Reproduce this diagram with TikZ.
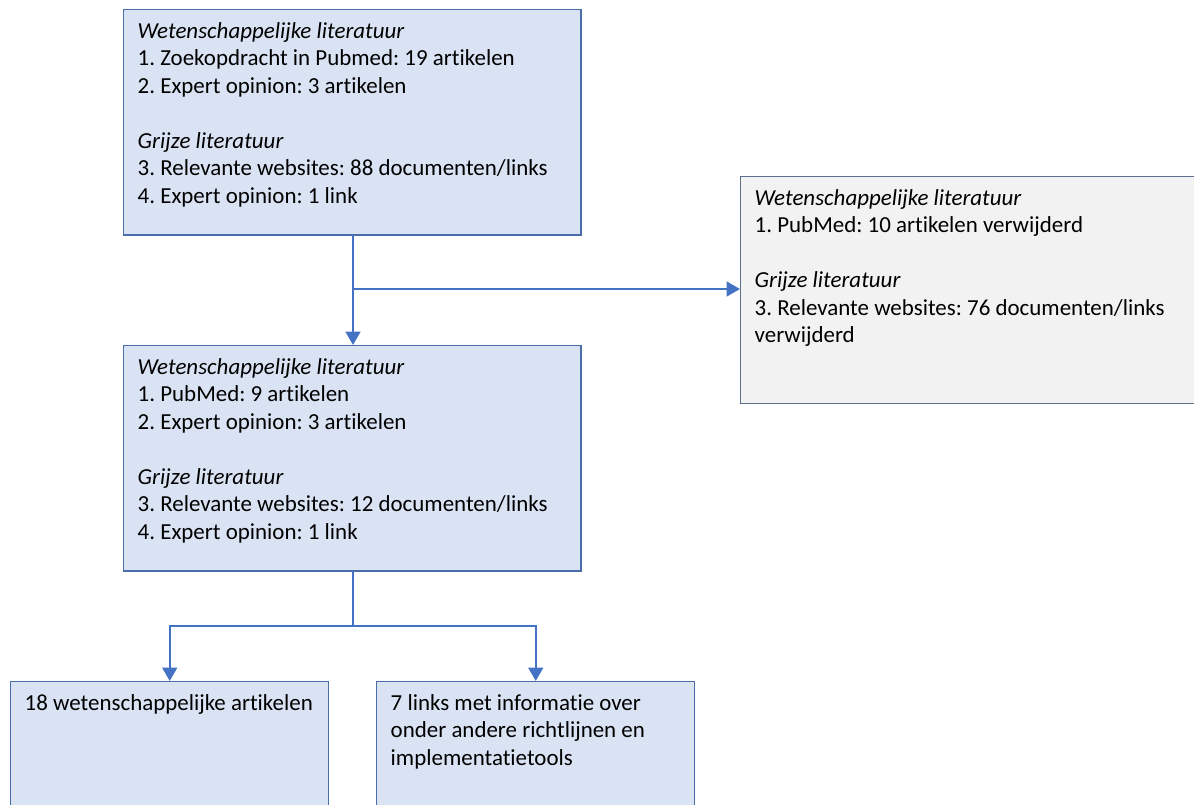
\documentclass[tikz,border=0pt]{standalone}
\usepackage{fontspec}
\setmainfont[Ligatures=NoCommon]{Carlito}
\usepackage{xcolor}
\usetikzlibrary{arrows.meta,positioning}
\definecolor{lblue}  {HTML}{DAE3F3}
\definecolor{lgrey}  {HTML}{F2F2F2}
\definecolor{edgeblue}{HTML}{4A6FA8}
\definecolor{edgegrey}{HTML}{5B6F8E}
\definecolor{arrblue}{HTML}{4472C4}
\frenchspacing

\begin{document}
\begin{tikzpicture}[
  x=0.75pt, y=-0.75pt,
  every node/.style={font=\fontsize{17.2}{20.6}\selectfont},
  blok/.style={rectangle, anchor=north west, align=left, draw=edgeblue,
               fill=lblue, line width=1.1pt, inner xsep=10.5pt, inner ysep=9.5pt},
  grijs/.style={blok, fill=lgrey, draw=edgegrey},
  arr/.style={-{Triangle[length=10pt,width=11pt]}, draw=arrblue, line width=1.8pt},
  lijn/.style={draw=arrblue, line width=1.8pt},
]
\useasboundingbox (0,0) rectangle (1194,805);
\clip (0,0) rectangle (1194,805);
\fill[white] (0,0) rectangle (1194,805);

\node[blok](zoek) at (123,9)
  {\parbox[t][150pt][t]{322pt}{\textit{Wetenschappelijke literatuur}\\
   1. Zoekopdracht in Pubmed: 19 artikelen\\
   2. Expert opinion: 3 artikelen\\[20.6pt]
   \textit{Grijze literatuur}\\
   3. Relevante websites: 88 documenten/links\\
   4. Expert opinion: 1 link}};
\node[blok](selectie) at (123,345)
  {\parbox[t][150pt][t]{322pt}{\textit{Wetenschappelijke literatuur}\\
   1. PubMed: 9 artikelen\\
   2. Expert opinion: 3 artikelen\\[20.6pt]
   \textit{Grijze literatuur}\\
   3. Relevante websites: 12 documenten/links\\
   4. Expert opinion: 1 link}};
\node[grijs](weg) at (740,176)
  {\parbox[t][151pt][t]{345pt}{\textit{Wetenschappelijke literatuur}\\
   1. PubMed: 10 artikelen verwijderd\\[20.6pt]
   \textit{Grijze literatuur}\\
   3. Relevante websites: 76 documenten/links\\
   verwijderd}};
\node[blok](artikelen) at (10,681)
  {\parbox[t][120pt][t]{217.5pt}{18 wetenschappelijke artikelen}};
\node[blok](links) at (376,681)
  {\parbox[t][120pt][t]{217.5pt}{7 links met informatie over\\
   onder andere richtlijnen en\\
   implementatietools}};

\coordinate (split1) at (353,289);
\coordinate (split2) at (353,626);

\draw[lijn] (zoek.south -| split1) -- (split1);
\draw[arr] (split1) -- (selectie.north -| split1);
\draw[arr] (split1) -- (weg.west |- split1);
\draw[lijn] (selectie.south -| split2) -- (split2);
\draw[arr] (split2) -| (artikelen.north);
\draw[arr] (split2) -| (links.north);
\end{tikzpicture}
\end{document}
